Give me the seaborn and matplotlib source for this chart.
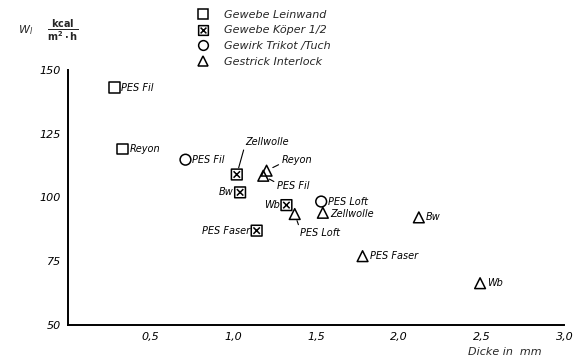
import numpy as np
import pandas as pd
import matplotlib
matplotlib.use("Agg")
import matplotlib.pyplot as plt
from matplotlib.path import Path
from matplotlib.lines import Line2D
import seaborn as sns

sns.set_theme(style="white")
plt.rcParams["font.family"] = ["DejaVu Sans"]
plt.rcParams["mathtext.fontset"] = "dejavusans"

# Fabric construction of each sample
gruppe = ["Gewebe Leinwand", "Gewebe Leinwand",
          "Gewirk Trikot /Tuch",
          "Gewebe Köper 1/2", "Gewebe Köper 1/2", "Gewebe Köper 1/2", "Gewebe Köper 1/2",
          "Gestrick Interlock", "Gestrick Interlock", "Gestrick Interlock",
          "Gewirk Trikot /Tuch",
          "Gestrick Interlock", "Gestrick Interlock", "Gestrick Interlock", "Gestrick Interlock"]
material = ["PES Fil", "Reyon",
            "PES Fil",
            "Zellwolle", "Bw", "Wb", "PES Faser",
            "Reyon", "PES Fil", "PES Loft",
            "PES Loft",
            "Zellwolle", "Bw", "PES Faser", "Wb"]
dicke = [0.28, 0.33,
         0.71,
         1.02, 1.04, 1.32, 1.14,
         1.20, 1.18, 1.37,
         1.53,
         1.54, 2.12, 1.78, 2.49]
waerme = [143, 119,
          114.8,
          109, 102, 97, 87,
          110.5, 108.5, 93.5,
          98.4,
          94, 92.2, 77, 66.4]

gruppen = ["Gewebe Leinwand", "Gewebe Köper 1/2", "Gewirk Trikot /Tuch", "Gestrick Interlock"]
x_ticks = [0.5, 1.0, 1.5, 2.0, 2.5, 3.0]
y_ticks = [50, 75, 100, 125, 150]

df = pd.DataFrame({"gruppe": gruppe, "material": material,
                   "dicke": dicke, "waerme": waerme})

# square with crossed diagonals for the twill weave
verts = [(-1, -1), (1, -1), (1, 1), (-1, 1), (-1, -1),
         (-0.6, -0.6), (0.6, 0.6), (-0.6, 0.6), (0.6, -0.6)]
codes = [Path.MOVETO, Path.LINETO, Path.LINETO, Path.LINETO, Path.CLOSEPOLY,
         Path.MOVETO, Path.LINETO, Path.MOVETO, Path.LINETO]
koeper = Path(verts, codes)
marker_map = {"Gewebe Leinwand": "s", "Gewebe Köper 1/2": koeper,
              "Gewirk Trikot /Tuch": "o", "Gestrick Interlock": "^"}

fig = plt.figure(figsize=(5.76, 3.6), dpi=100)
ax = fig.add_axes([0.118, 0.097, 0.862, 0.709])

sns.scatterplot(data=df, x="dicke", y="waerme", style="gruppe",
                style_order=gruppen, markers=marker_map, ax=ax,
                s=60, facecolors="none", edgecolor="black", color="black",
                linewidth=1.1, legend=False)

ax.set_xlim(0, 3.0)
ax.set_ylim(50, 150)
ax.set_xticks(x_ticks)
ax.set_yticks(y_ticks)
ax.set_xticklabels([f"{v:.1f}".replace(".", ",") for v in x_ticks],
                   style="italic", fontsize=8)
ax.set_yticklabels([str(v) for v in y_ticks], style="italic", fontsize=8)
ax.tick_params(axis="both", which="major", direction="out", length=3,
               width=1, color="black", pad=2, labelcolor="black")
for side in ["top", "right"]:
    ax.spines[side].set_visible(False)
for side in ["left", "bottom"]:
    ax.spines[side].set_color("black")
    ax.spines[side].set_linewidth(1.4)
ax.set_xlabel("")
ax.set_ylabel("")

# label placement (offset in points, alignment, leader line)
label_style = {
    0: ((5, 0), "left", False), 1: ((5, 0), "left", False),
    2: ((5, 0), "left", False),
    3: ((6, 20), "left", True), 4: ((-5, 0), "right", False),
    5: ((-5, 0), "right", False), 6: ((-5, 0), "right", False),
    7: ((11, 4), "left", True), 8: ((10, -4), "left", True),
    9: ((4, -10), "left", True),
    10: ((5, 0), "left", False),
    11: ((5, -1), "left", False), 12: ((5, 0), "left", False),
    13: ((5, 0), "left", False), 14: ((5, 0), "left", False),
}
for i, (xv, yv, txt) in enumerate(zip(dicke, waerme, material)):
    off, ha, line = label_style[i]
    kw = dict(xy=(xv, yv), xytext=off, textcoords="offset points",
              ha=ha, va="center", fontsize=7, style="italic", color="black")
    if line:
        above = off[1] > 0
        kw["arrowprops"] = dict(arrowstyle="-", color="black", lw=0.8,
                                shrinkA=0, shrinkB=5,
                                relpos=(0, 0.2) if above else (0, 0.8))
        kw["va"] = "bottom" if above else "top"
    ax.annotate(txt, **kw)

# legend of fabric constructions
handles = [Line2D([], [], linestyle="none", marker=marker_map[g],
                  markerfacecolor="none", markeredgecolor="black",
                  markeredgewidth=1.1, markersize=7) for g in gruppen]
fig.legend(handles, gruppen, loc="upper left", bbox_to_anchor=(0.335, 0.985),
           frameon=False, prop={"size": 8, "style": "italic"},
           handletextpad=1.4, labelspacing=0.5, handlelength=1.0,
           borderaxespad=0)

# axis titles
fig.text(0.032, 0.915, r"$W_l$", fontsize=8, ha="left", va="center")
fig.text(0.082, 0.915, r"$\frac{\mathbf{kcal}}{\mathbf{m^2 \cdot h}}$",
         fontsize=10, ha="left", va="center")
fig.text(0.94, 0.022, "Dicke in  mm", fontsize=8, style="italic",
         ha="right", va="center")

fig.savefig("out.png", dpi=100, facecolor="white")
